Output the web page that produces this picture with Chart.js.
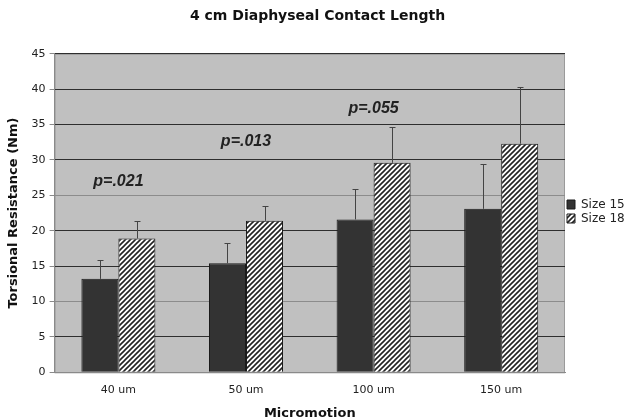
<!DOCTYPE html>
<html>
<head>
<meta charset="utf-8">
<script src="https://cdn.jsdelivr.net/npm/chart.js@4/dist/chart.umd.min.js"></script>
<style>
  body { margin: 0; background: #fff; }
  #wrap { width: 629px; height: 419px; }
</style>
</head>
<body>
<div id="wrap"><canvas id="chart"></canvas></div>
<script>
const categories = ["40 um", "50 um", "100 um", "150 um"];
const size15 = [13.2, 15.4, 21.6, 23.1];
const size18 = [18.9, 21.4, 29.6, 32.3];
// upper end of each error bar
const size15Err = [15.9, 18.3, 25.9, 29.4];
const size18Err = [21.4, 23.5, 34.7, 40.3];
const yTicks = [0, 5, 10, 15, 20, 25, 30, 35, 40, 45];
// p-value notes: text, category index, y value
const pTexts = ["p=.021", "p=.013", "p=.055"];
const pIndex = [0, 1, 2];
const pValueY = [26.9, 32.6, 37.2];

const makeHatch = () => {
  const c = document.createElement("canvas");
  c.width = 5;
  c.height = 5;
  const g = c.getContext("2d");
  g.fillStyle = "#ffffff";
  g.fillRect(0, 0, 5, 5);
  g.strokeStyle = "#222222";
  g.lineWidth = 1.6;
  g.beginPath();
  g.moveTo(-1, 6); g.lineTo(6, -1);
  g.moveTo(-1, 1); g.lineTo(1, -1);
  g.moveTo(4, 6); g.lineTo(6, 4);
  g.stroke();
  return g.createPattern(c, "repeat");
};
const hatch = makeHatch();

const plotBg = {
  id: "plotBg",
  beforeDraw(chart) {
    const { ctx, chartArea: a } = chart;
    ctx.save();
    ctx.fillStyle = "#c0c0c0";
    ctx.fillRect(a.left, a.top, a.right - a.left, a.bottom - a.top);
    ctx.strokeStyle = "#9a9a9a";
    ctx.lineWidth = 1;
    ctx.strokeRect(a.left + 0.5, a.top + 0.5, a.right - a.left - 1, a.bottom - a.top);
    ctx.restore();
  },
};

const errBars = {
  id: "errBars",
  afterDatasetsDraw(chart) {
    const { ctx } = chart;
    const y = chart.scales.y;
    const tops = [size15Err, size18Err];
    ctx.save();
    ctx.strokeStyle = "#444";
    ctx.lineWidth = 1;
    chart.data.datasets.forEach((ds, i) => {
      chart.getDatasetMeta(i).data.forEach((bar, j) => {
        const x = Math.round(bar.x) + 0.5;
        const t = Math.round(y.getPixelForValue(tops[i][j])) + 0.5;
        ctx.beginPath();
        ctx.moveTo(x, bar.y);
        ctx.lineTo(x, t);
        ctx.moveTo(x - 3, t);
        ctx.lineTo(x + 3, t);
        ctx.stroke();
      });
    });
    // p-value notes
    const xs = chart.scales.x;
    ctx.fillStyle = "#222";
    ctx.font = "italic bold 16px 'Liberation Sans', Arial, sans-serif";
    ctx.textAlign = "center";
    ctx.textBaseline = "middle";
    pTexts.forEach((t, k) => {
      ctx.fillText(t, xs.getPixelForValue(pIndex[k]), y.getPixelForValue(pValueY[k]));
    });
    ctx.restore();
  },
};

const ctx = document.getElementById("chart");
new Chart(ctx, {
  type: "bar",
  data: {
    labels: categories,
    datasets: [
      {
        label: "Size 15",
        data: size15,
        backgroundColor: "#333333",
        borderColor: "#1a1a1a",
        borderWidth: 1,
        categoryPercentage: 0.58,
        barPercentage: 1.0,
      },
      {
        label: "Size 18",
        data: size18,
        backgroundColor: hatch,
        borderColor: "#1a1a1a",
        borderWidth: 1,
        categoryPercentage: 0.58,
        barPercentage: 1.0,
      },
    ],
  },
  options: {
    responsive: true,
    maintainAspectRatio: false,
    animation: false,
    layout: { padding: { top: 4, right: 0, bottom: 0, left: 6 } },
    plugins: {
      title: {
        display: true,
        text: "4 cm Diaphyseal Contact Length",
        color: "#111",
        font: { family: "'DejaVu Sans', Verdana, sans-serif", size: 14, weight: "bold" },
        padding: { top: 4, bottom: 29 },
      },
      legend: {
        position: "right",
        maxWidth: 64,
        labels: {
          color: "#222",
          font: { family: "'DejaVu Sans', Verdana, sans-serif", size: 12 },
          boxWidth: 8,
          boxHeight: 9,
          padding: 2,
        },
      },
      tooltip: { enabled: false },
    },
    scales: {
      x: {
        grid: { display: false, drawTicks: false },
        border: { color: "#8a8a8a" },
        ticks: {
          color: "#222",
          padding: 12,
          font: { family: "'DejaVu Sans', Verdana, sans-serif", size: 11, lineHeight: 1.0 },
        },
        title: {
          display: true,
          text: "Micromotion",
          color: "#111",
          font: { family: "'DejaVu Sans', Verdana, sans-serif", size: 13, weight: "bold", lineHeight: 0.9 },
          padding: { top: 0, bottom: 0 },
        },
      },
      y: {
        min: 0,
        max: 45,
        afterBuildTicks: (axis) => {
          axis.ticks = yTicks.map((v) => ({ value: v }));
        },
        grid: {
          color: (c) => (c.tick && (c.tick.value === 10 || c.tick.value === 25) ? "#8c8c8c" : "#2e2e2e"),
          tickColor: "#8a8a8a",
          tickLength: 5,
        },
        border: { color: "#8a8a8a" },
        ticks: {
          color: "#222",
          padding: 4,
          font: { family: "'DejaVu Sans', Verdana, sans-serif", size: 11 },
        },
        title: {
          display: true,
          text: "Torsional Resistance (Nm)",
          color: "#111",
          font: { family: "'DejaVu Sans', Verdana, sans-serif", size: 13, weight: "bold" },
          padding: { top: 0, bottom: 6 },
        },
      },
    },
  },
  plugins: [plotBg, errBars],
});
</script>
</body>
</html>
